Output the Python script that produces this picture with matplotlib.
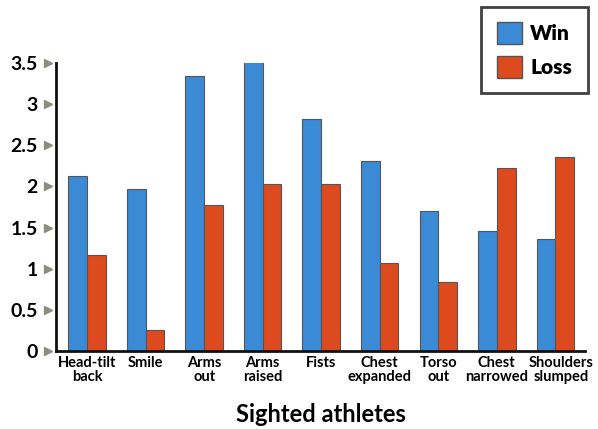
import numpy as np
import matplotlib.pyplot as plt
from matplotlib.patches import Patch
from matplotlib.transforms import blended_transform_factory, ScaledTranslation

categories = ['Head-tilt\nback', 'Smile', 'Arms\nout', 'Arms\nraised', 'Fists',
              'Chest\nexpanded', 'Torso\nout', 'Chest\nnarrowed', 'Shoulders\nslumped']
win = [2.13, 1.97, 3.34, 3.51, 2.82, 2.31, 1.70, 1.46, 1.36]
loss = [1.17, 0.26, 1.77, 2.03, 2.03, 1.07, 0.84, 2.22, 2.36]
yticks = [0, 0.5, 1, 1.5, 2, 2.5, 3, 3.5]
ytick_labels = ['0', '0.5', '1', '1.5', '2', '2.5', '3', '3.5']

blue = '#3a8ad6'
red = '#dc4a1e'
edge = '#555555'

plt.rcParams['font.family'] = ['Lato', 'DejaVu Sans']

fig = plt.figure(figsize=(5.98, 4.29), dpi=100)
ax = fig.add_axes([0.0936, 0.182, 0.885, 0.671])

x = np.arange(len(categories))
w = 0.32
ax.bar(x - w / 2, win, w, color=blue, edgecolor=edge, linewidth=0.8)
ax.bar(x + w / 2, loss, w, color=red, edgecolor=edge, linewidth=0.8)

ax.set_xlim(-0.53, 8.51)
ax.set_ylim(0, 3.5)
for s in ['top', 'right']:
    ax.spines[s].set_visible(False)
for s in ['left', 'bottom']:
    ax.spines[s].set_linewidth(2)
    ax.spines[s].set_color('#111111')

ax.set_yticks(yticks)
ax.set_yticklabels(ytick_labels, fontsize=14, fontweight='bold')
ax.tick_params(axis='y', length=0, pad=13)
ax.set_xticks(x)
ax.set_xticklabels(categories, fontsize=10.5, fontweight='bold', linespacing=1.0)
ax.tick_params(axis='x', length=0, pad=4)
# last label sits a little right in the original
lbl = ax.get_xticklabels()[-1]
lbl.set_transform(lbl.get_transform() + ScaledTranslation(6 / 100, 0, fig.dpi_scale_trans))

# grey arrowhead tick marks
tr = blended_transform_factory(ax.transAxes, ax.transData)
ax.plot([-0.015] * len(yticks), yticks, marker='>', color='#8a8f7e', markersize=6,
        linestyle='none', transform=tr, clip_on=False)

ax.set_xlabel('Sighted athletes', fontsize=17, fontweight='bold', labelpad=13)

handles = [Patch(facecolor=blue, edgecolor=edge, label='Win'),
           Patch(facecolor=red, edgecolor=edge, label='Loss')]
leg = fig.legend(handles=handles, loc='upper right', bbox_to_anchor=(0.983, 0.984),
                 frameon=True, fancybox=False, prop={'weight': 'heavy', 'size': 15},
                 handlelength=1.2, handleheight=1.2, handletextpad=0.4,
                 labelspacing=0.6, borderpad=0.75, borderaxespad=0)
leg.get_frame().set_edgecolor('#111111')
leg.get_frame().set_linewidth(2)

fig.savefig('out.png', dpi=100)
